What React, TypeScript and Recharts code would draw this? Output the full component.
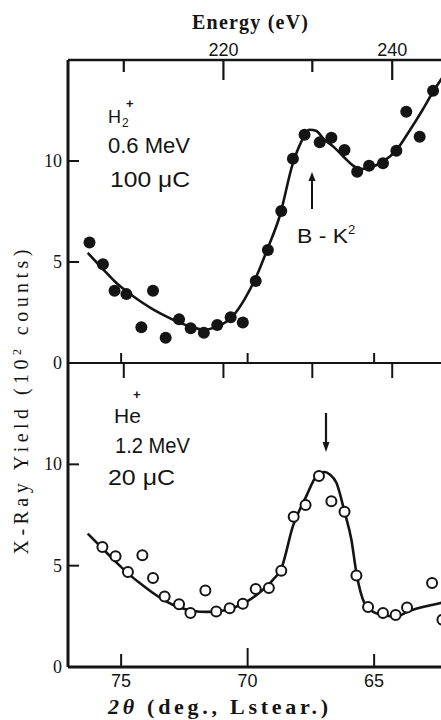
import React from 'react';
import { ComposedChart, Line, Scatter, XAxis, YAxis } from 'recharts';

// ---- data -------------------------------------------------------------
// 2θ in degrees (lead stearate crystal), yield in units of 10² counts

// H2+ , 0.6 MeV, 100 µC — measured points
const h2Theta = [76.25, 75.72, 75.26, 74.79, 74.2, 73.74, 73.24, 72.71, 72.25, 71.73, 71.2, 70.67, 70.19, 69.68, 69.2, 68.67, 68.21, 67.75, 67.15, 66.69, 66.17, 65.67, 65.2, 64.65, 64.12, 63.73, 63.2, 62.67];
const h2Yield = [5.96, 4.89, 3.58, 3.41, 1.77, 3.58, 1.25, 2.16, 1.72, 1.5, 1.88, 2.26, 2.0, 4.06, 5.59, 7.52, 10.11, 11.3, 10.93, 11.15, 10.54, 9.47, 9.77, 9.89, 10.51, 12.44, 11.2, 13.48];

// H2+ hand-drawn guide curve
const h2CurveTheta = [76.32, 75.72, 75.26, 74.79, 74.2, 73.74, 73.2, 72.69, 72.2, 71.77, 71.2, 70.58, 70.1, 69.66, 69.2, 68.74, 68.21, 67.9, 67.55, 67.3, 67.0, 66.6, 66.2, 65.8, 65.5, 65.1, 64.65, 64.12, 63.6, 63.1, 62.67, 62.1];
const h2CurveYield = [5.45, 4.65, 4.05, 3.55, 3.02, 2.66, 2.3, 2.0, 1.78, 1.65, 1.8, 2.33, 3.2, 4.27, 5.7, 7.24, 9.89, 10.9, 11.55, 11.5, 11.1, 10.7, 10.2, 9.75, 9.6, 9.7, 9.97, 10.54, 11.5, 12.5, 13.43, 14.5];

// He+ , 1.2 MeV, 20 µC — measured points
const heTheta = [75.74, 75.22, 74.73, 74.16, 73.74, 73.28, 72.71, 72.26, 71.67, 71.24, 70.71, 70.19, 69.68, 69.16, 68.67, 68.18, 67.71, 67.18, 66.69, 66.17, 65.7, 65.24, 64.65, 64.15, 63.7, 62.71, 62.3];
const heYield = [5.92, 5.46, 4.69, 5.51, 4.39, 3.48, 3.1, 2.66, 3.78, 2.74, 2.9, 3.12, 3.85, 3.9, 4.75, 7.41, 7.99, 9.42, 8.18, 7.66, 4.52, 2.96, 2.66, 2.57, 2.94, 4.14, 2.33];

// He+ hand-drawn guide curve
const heCurveTheta = [76.32, 75.74, 75.22, 74.73, 74.2, 73.74, 73.28, 72.71, 72.2, 71.6, 71.0, 70.5, 70.0, 69.5, 69.0, 68.67, 68.21, 67.68, 67.28, 66.96, 66.75, 66.49, 66.17, 65.9, 65.7, 65.38, 65.0, 64.65, 64.12, 63.66, 62.41, 62.1];
const heCurveYield = [6.58, 5.85, 5.2, 4.62, 4.08, 3.65, 3.28, 2.95, 2.78, 2.72, 2.78, 2.95, 3.25, 3.7, 4.3, 4.85, 6.95, 8.43, 9.42, 9.62, 9.5, 9.09, 7.66, 6.29, 4.64, 3.15, 2.7, 2.57, 2.49, 2.74, 3.15, 3.25];

// axis ticks
const thetaTicks = [75, 70, 65];
const yieldTicks = [0, 5, 10];
const energyTicks = [210, 220, 230, 240];
const energyLabels = [220, 240];

const thetaDomain: [number, number] = [62.1, 77.1];
const yieldDomain: [number, number] = [0, 15];

// Bragg relation used for the energy scale on the upper edge
const HC = 12398.4; // eV·Å
const TWO_D = 97.1; // Å
const energyToTheta = (e: number) => (2 * Math.asin(HC / (e * TWO_D)) * 180) / Math.PI;
const energyTickTheta = energyTicks.map(energyToTheta);

const zip = (t: number[], y: number[]) => t.map((v, i) => ({ t: v, y: y[i] }));
const h2Points = zip(h2Theta, h2Yield);
const h2Curve = zip(h2CurveTheta, h2CurveYield);
const hePoints = zip(heTheta, heYield);
const heCurve = zip(heCurveTheta, heCurveYield);

// ---- styling -----------------------------------------------------------
const INK = '#141414';
const W = 470;
const H = 720;
const SERIF = '"Liberation Serif", "Times New Roman", serif';
const SANS = '"Liberation Sans", Arial, sans-serif';

type TickProps = { x?: number; y?: number; payload?: { value: number }; index?: number };

const EnergyTickTop = ({ x = 0, y = 0, index = 0 }: TickProps) => {
  const e = energyTicks[index];
  const major = energyLabels.includes(e);
  return (
    <g>
      <line x1={x} x2={x} y1={y} y2={y + (major ? 20 : 12)} stroke={INK} strokeWidth={2.2} />
      {major && (
        <text x={x} y={y - 4} textAnchor="middle" fontFamily={SANS} fontSize={18} fill={INK}>
          {e}
        </text>
      )}
    </g>
  );
};

const EnergyTickMid = ({ x = 0, y = 0 }: TickProps) => (
  <line x1={x} x2={x} y1={y} y2={y + 15} stroke={INK} strokeWidth={2} />
);

const ThetaTickMid = ({ x = 0, y = 0 }: TickProps) => (
  <line x1={x} x2={x} y1={y} y2={y - 10} stroke={INK} strokeWidth={2} />
);

const ThetaTickBottom = ({ x = 0, y = 0, payload }: TickProps) => (
  <g>
    <line x1={x} x2={x} y1={y} y2={y - (payload?.value === 70 ? 19 : 13)} stroke={INK} strokeWidth={2} />
    <text x={x} y={y + 20} textAnchor="middle" fontFamily={SANS} fontSize={18} fill={INK}>
      {payload?.value}
    </text>
  </g>
);

const YieldTickLeft = ({ x = 0, y = 0, payload }: TickProps) => (
  <g>
    <line x1={x} x2={x + 11} y1={y} y2={y} stroke={INK} strokeWidth={2} />
    <text x={x - 6} y={y + 6} textAnchor="end" fontFamily={SERIF} fontSize={18} fill={INK}>
      {payload?.value}
    </text>
  </g>
);

const YieldTickRight = ({ x = 0, y = 0 }: TickProps) => (
  <line x1={x} x2={x - 10} y1={y} y2={y} stroke={INK} strokeWidth={2} />
);

const FilledDot = (p: { cx?: number; cy?: number }) => <circle cx={p.cx} cy={p.cy} r={6} fill={INK} />;
const OpenDot = (p: { cx?: number; cy?: number }) => (
  <circle cx={p.cx} cy={p.cy} r={5} fill="#fff" stroke={INK} strokeWidth={2} />
);

const layer: React.CSSProperties = { position: 'absolute', left: 0, top: 0 };

export default function App() {
  return (
    <div style={{ position: 'absolute', left: 0, top: 0, width: 441, height: 720, overflow: 'hidden', background: '#fff' }}>
      {/* upper panel: H2+ */}
      <div style={layer}>
        <ComposedChart width={W} height={H} margin={{ top: 30, right: 12.5, bottom: 327, left: 8 }}>
          <XAxis
            xAxisId="energy"
            orientation="top"
            type="number"
            dataKey="t"
            domain={thetaDomain}
            reversed
            allowDataOverflow
            ticks={energyTickTheta}
            interval={0}
            height={30}
            tickSize={0}
            tickMargin={0}
            tickLine={false}
            axisLine={{ stroke: INK, strokeWidth: 2.6 }}
            tick={<EnergyTickTop />}
          />
          <XAxis
            xAxisId="theta"
            orientation="bottom"
            type="number"
            dataKey="t"
            domain={thetaDomain}
            reversed
            allowDataOverflow
            ticks={thetaTicks}
            interval={0}
            height={30}
            tickSize={0}
            tickMargin={0}
            tickLine={false}
            axisLine={{ stroke: INK, strokeWidth: 2.2 }}
            tick={<ThetaTickMid />}
          />
          <YAxis
            yAxisId="y"
            type="number"
            domain={yieldDomain}
            allowDataOverflow
            ticks={yieldTicks}
            interval={0}
            width={60}
            tickSize={0}
            tickMargin={0}
            tickLine={false}
            axisLine={{ stroke: INK, strokeWidth: 3 }}
            tick={<YieldTickLeft />}
          />
          <YAxis
            yAxisId="yr"
            orientation="right"
            type="number"
            domain={yieldDomain}
            ticks={yieldTicks}
            interval={0}
            width={10}
            tickSize={0}
            tickMargin={0}
            tickLine={false}
            axisLine={{ stroke: INK, strokeWidth: 2.6 }}
            tick={<YieldTickRight />}
          />
          <Line
            data={h2Curve}
            xAxisId="theta"
            yAxisId="y"
            dataKey="y"
            type="monotone"
            stroke={INK}
            strokeWidth={2.6}
            dot={false}
            activeDot={false}
            isAnimationActive={false}
          />
          <Scatter
            data={h2Points}
            xAxisId="theta"
            yAxisId="y"
            dataKey="y"
            shape={<FilledDot />}
            isAnimationActive={false}
          />
        </ComposedChart>
      </div>

      {/* lower panel: He+ */}
      <div style={layer}>
        <ComposedChart width={W} height={H} margin={{ top: 333, right: 12.5, bottom: 23, left: 8 }}>
          <XAxis
            xAxisId="energy"
            orientation="top"
            type="number"
            dataKey="t"
            domain={thetaDomain}
            reversed
            allowDataOverflow
            ticks={energyTickTheta}
            interval={0}
            height={30}
            tickSize={0}
            tickMargin={0}
            tickLine={false}
            axisLine={false}
            tick={<EnergyTickMid />}
          />
          <XAxis
            xAxisId="theta"
            orientation="bottom"
            type="number"
            dataKey="t"
            domain={thetaDomain}
            reversed
            allowDataOverflow
            ticks={thetaTicks}
            interval={0}
            height={30}
            tickSize={0}
            tickMargin={0}
            tickLine={false}
            axisLine={{ stroke: INK, strokeWidth: 2.8 }}
            tick={<ThetaTickBottom />}
          />
          <YAxis
            yAxisId="y"
            type="number"
            domain={yieldDomain}
            allowDataOverflow
            ticks={yieldTicks}
            interval={0}
            width={60}
            tickSize={0}
            tickMargin={0}
            tickLine={false}
            axisLine={{ stroke: INK, strokeWidth: 3 }}
            tick={<YieldTickLeft />}
          />
          <YAxis
            yAxisId="yr"
            orientation="right"
            type="number"
            domain={yieldDomain}
            ticks={yieldTicks}
            interval={0}
            width={10}
            tickSize={0}
            tickMargin={0}
            tickLine={false}
            axisLine={{ stroke: INK, strokeWidth: 2.6 }}
            tick={<YieldTickRight />}
          />
          <Line
            data={heCurve}
            xAxisId="theta"
            yAxisId="y"
            dataKey="y"
            type="monotone"
            stroke={INK}
            strokeWidth={2.6}
            dot={false}
            activeDot={false}
            isAnimationActive={false}
          />
          <Scatter
            data={hePoints}
            xAxisId="theta"
            yAxisId="y"
            dataKey="y"
            shape={<OpenDot />}
            isAnimationActive={false}
          />
        </ComposedChart>
      </div>

      {/* titles and annotations */}
      <svg width={441} height={720} style={{ ...layer, pointerEvents: 'none' }}>
        <text x={250} y={29} textAnchor="middle" fontFamily={SERIF} fontWeight="bold" fontSize={20} fill={INK} textLength={116} lengthAdjust="spacing">
          Energy (eV)
        </text>
        <text
          transform="translate(28,402) rotate(-90)"
          textAnchor="middle"
          fontFamily={SERIF}
          fontSize={20}
          fill={INK}
          textLength={305}
          lengthAdjust="spacing"
        >
          X-Ray Yield (10<tspan dy={-7} fontSize={12}>2</tspan>
          <tspan dy={7}> counts)</tspan>
        </text>
        <text x={218} y={714} textAnchor="middle" fontFamily={SERIF} fontWeight="bold" fontSize={22} fill={INK} textLength={220} lengthAdjust="spacing">
          <tspan fontStyle="italic">2θ</tspan> (deg., Lstear.)
        </text>

        {/* H2+ block */}
        <g fontFamily={SANS} fill={INK}>
          <text x={108} y={123} fontSize={18}>H</text>
          <text x={122} y={127} fontSize={12}>2</text>
          <text x={126} y={108} fontSize={13} fontWeight="bold">+</text>
          <text x={108} y={153} fontSize={22} textLength={82} lengthAdjust="spacingAndGlyphs">0.6 MeV</text>
          <text x={110} y={187} fontSize={22} textLength={80} lengthAdjust="spacingAndGlyphs">100 μC</text>
          <text x={297} y={243} fontSize={21} textLength={51} lengthAdjust="spacingAndGlyphs">B - K</text>
          <text x={348} y={234} fontSize={13}>2</text>

          {/* He+ block */}
          <text x={114} y={423} fontSize={21}>He</text>
          <text x={133} y={399} fontSize={13} fontWeight="bold">+</text>
          <text x={115} y={453} fontSize={22} textLength={75} lengthAdjust="spacingAndGlyphs">1.2 MeV</text>
          <text x={108} y={485} fontSize={22} textLength={67} lengthAdjust="spacingAndGlyphs">20 μC</text>
        </g>

        {/* arrows */}
        <line x1={312} x2={312} y1={209} y2={178} stroke={INK} strokeWidth={2} />
        <path d="M312 172 L308.5 181 L315.5 181 Z" fill={INK} />
        <line x1={326} x2={326} y1={413} y2={445} stroke={INK} strokeWidth={2.2} />
        <path d="M326 452 L322.5 442 L329.5 442 Z" fill={INK} />
      </svg>
    </div>
  );
}
